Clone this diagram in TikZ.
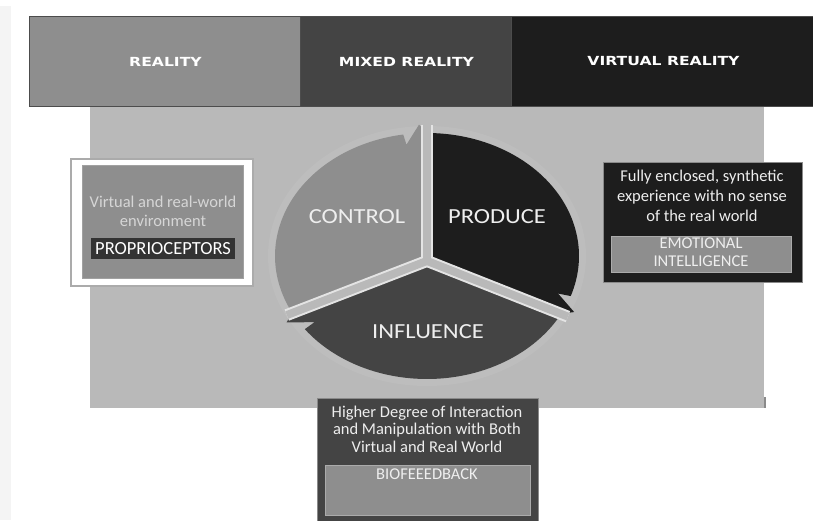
\documentclass[tikz,border=0pt]{standalone}
\usepackage{fontspec}
\usepackage{graphicx}
\setmainfont{Carlito}
\newfontfamily\bandfont{DejaVu Sans}
\definecolor{panelgray}{HTML}{B9B9B9}
\definecolor{halogray}{HTML}{BDBDBD}
\definecolor{midgray}{HTML}{8E8E8E}
\definecolor{deepgray}{HTML}{444444}
\definecolor{nearblack}{HTML}{1D1D1D}
\definecolor{seamlight}{HTML}{E4E4E4}
\definecolor{edgegray}{HTML}{8A8A8A}
\definecolor{softline}{HTML}{ABABAB}
\definecolor{paletext}{HTML}{D6D6D6}
\definecolor{brighttext}{HTML}{EEEEEE}
\definecolor{tagdark}{HTML}{333333}
\definecolor{marginstrip}{HTML}{F4F4F4}
\newcommand\widen[2]{\scalebox{#1}[1]{#2}}

\begin{document}
\begin{tikzpicture}[x=1pt,y=-1pt,
  bandcell/.style={draw=black!70, line width=0.7pt, inner sep=0pt, minimum height=90pt},
  bandlabel/.style={text=white, font=\bandfont\bfseries\fontsize{12.5}{15}\selectfont, inner sep=0pt},
  bodytext/.style={align=center, inner sep=0pt},
  tagtext/.style={text=brighttext, font=\fontsize{16.5}{18}\selectfont, align=center, inner sep=0pt},
  sectorlabel/.style={text=brighttext, font=\fontsize{21.5}{24}\selectfont, inner sep=0pt},
  seamedge/.style={draw=seamlight, line width=12pt},
  seamfill/.style={draw=panelgray, line width=8pt}]
\useasboundingbox (0,0) rectangle (813,520);
\fill[white] (0,0) rectangle (813,520);
\fill[marginstrip] (0,6) rectangle (11,520);

% grey backdrop behind the cycle
\fill[panelgray] (90,106) rectangle (764,408);
\fill[edgegray] (764,397) rectangle (766,408);

% header band
\node[bandcell, fill=midgray, minimum width=271pt] (cellR) at (164.5,61) {};
\node[bandcell, fill=deepgray, minimum width=211pt] (cellM) at (405.5,61) {};
\node[bandcell, fill=nearblack, minimum width=305pt] (cellV) at (663.5,61) {};
\node[bandlabel] (labR) at (165.5,61.5) {\widen{1.25}{REALITY}};
\node[bandlabel] (labM) at (406.5,61.5) {\widen{1.25}{MIXED REALITY}};
\node[bandlabel] (labV) at (663.5,61.5) {\widen{1.25}{VIRTUAL REALITY}};

% three-part cycle
\begin{scope}[shift={(427,256)}, x=152pt, y=123pt]
  \fill[halogray] (0,0) ellipse [x radius=159pt, y radius=130pt];
  \coordinate (J) at (0,-0.04);
  \coordinate (seamTop) at (90:1.065);
  \coordinate (seamLeft) at (207.5:1.04);
  \coordinate (seamRight) at (332:1.05);
  % CONTROL
  \fill[midgray] (J) -- plot[domain=207.5:99, samples=60] (\x:1)
    -- (98.5:0.915) -- (92.8:1.07) -- (90:1) -- cycle;
  % PRODUCE
  \fill[nearblack] (J) -- plot[domain=90:-19, samples=60] (\x:1)
    -- (-19.5:0.915) -- (-25.2:1.07) -- (-28:1) -- cycle;
  % INFLUENCE
  \fill[deepgray] (J) -- plot[domain=332:216.5, samples=60] (\x:1)
    -- (216:0.915) -- (210.3:1.07) -- (207.5:1) -- cycle;
  % seams between the parts
  \draw[seamedge] (J) -- (seamTop);
  \draw[seamedge] (J) -- (seamLeft);
  \draw[seamedge] (J) -- (seamRight);
  \draw[seamfill] (J) -- (seamTop);
  \draw[seamfill] (J) -- (seamLeft);
  \draw[seamfill] (J) -- (seamRight);
\end{scope}
\node[sectorlabel] (lblControl) at (357,217) {\widen{1.14}{CONTROL}};
\node[sectorlabel] (lblProduce) at (497,217) {\widen{1.14}{PRODUCE}};
\node[sectorlabel] (lblInfluence) at (428,332) {\widen{1.14}{INFLUENCE}};

% left panel: reality
\node[draw=softline, fill=white, line width=1.2pt, minimum width=182pt, minimum height=127pt, inner sep=0pt] (leftFrame) at (162,222.5) {};
\node[draw=edgegray!80, fill=midgray, minimum width=161pt, minimum height=113pt, inner sep=0pt] (leftBox) at (162.5,221.5) {};
\node[bodytext, text=paletext, font=\fontsize{16.5}{19}\selectfont] (leftText) at (163,211) {Virtual and real-world\\environment};
\node[fill=tagdark, text=white, font=\fontsize{18.5}{20}\selectfont, minimum width=144pt, minimum height=21pt, inner sep=0pt] (leftTag) at (163,248.5) {PROPRIOCEPTORS};

% right panel: virtual reality
\node[draw=edgegray, fill=nearblack, minimum width=199pt, minimum height=120pt, inner sep=0pt] (rightBox) at (702.5,222) {};
\node[bodytext, text=brighttext, font=\fontsize{16.5}{20}\selectfont] (rightText) at (702,196) {Fully enclosed, synthetic\\experience with no sense\\of the real world};
\node[draw=softline, fill=midgray, minimum width=180pt, minimum height=36pt, inner sep=0pt] (rightTag) at (701,254) {};
\node[tagtext] (rightTagText) at (701,252.5) {EMOTIONAL\\INTELLIGENCE};

% bottom panel: mixed reality
\node[draw=edgegray, fill=deepgray, minimum width=221pt, minimum height=127pt, inner sep=0pt] (bottomBox) at (427.5,461.5) {};
\node[bodytext, text=brighttext, font=\fontsize{16.5}{17.5}\selectfont] (bottomText) at (427,429) {Higher Degree of Interaction\\and Manipulation with Both\\Virtual and Real World};
\node[draw=softline, fill=midgray, minimum width=205pt, minimum height=50pt, inner sep=0pt] (bottomTag) at (427.5,490) {};
\node[tagtext] (bottomTagText) at (427,474) {BIOFEEEDBACK};
\end{tikzpicture}
\end{document}
